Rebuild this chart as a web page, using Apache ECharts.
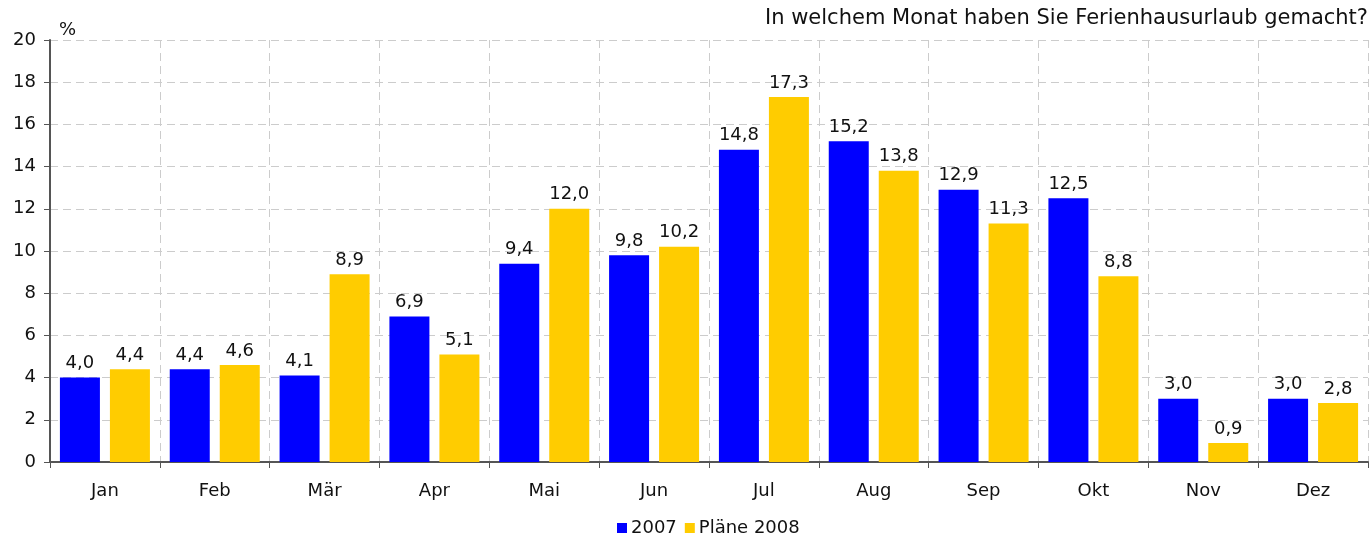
<!DOCTYPE html>
<html>
<head>
<meta charset="utf-8">
<script src="https://cdn.jsdelivr.net/npm/echarts@6/dist/echarts.min.js"></script>
<style>
  html, body { margin: 0; padding: 0; background: #fff; }
  #chart { width: 1372px; height: 536px; }
</style>
</head>
<body>
<div id="chart"></div>
<script>
const months = ['Jan', 'Feb', 'Mär', 'Apr', 'Mai', 'Jun', 'Jul', 'Aug', 'Sep', 'Okt', 'Nov', 'Dez'];
const values2007 = [4.0, 4.4, 4.1, 6.9, 9.4, 9.8, 14.8, 15.2, 12.9, 12.5, 3.0, 3.0];
const values2008 = [4.4, 4.6, 8.9, 5.1, 12.0, 10.2, 17.3, 13.8, 11.3, 8.8, 0.9, 2.8];
const seriesNames = ['2007', 'Pläne 2008'];

const font = 'Verdana, "DejaVu Sans", sans-serif';
const chart = echarts.init(document.getElementById('chart'));

const fmt = (p) => p.value.toFixed(1).replace('.', ',');

chart.setOption({
  animation: false,
  textStyle: { fontFamily: font, color: '#000' },
  title: {
    text: 'In welchem Monat haben Sie Ferienhausurlaub gemacht?',
    right: 4,
    top: 8,
    padding: 0,
    textStyle: { fontFamily: font, fontSize: 21, fontWeight: 'normal', color: '#111' }
  },
  legend: {
    data: seriesNames,
    bottom: -1,
    left: 617,
    padding: 0,
    itemWidth: 10,
    itemHeight: 10,
    itemGap: 8,
    icon: 'rect',
    textStyle: { fontFamily: font, fontSize: 18, color: '#111', padding: [0, 0, 0, -1] }
  },
  grid: { left: 50, right: 4, top: 40, bottom: 74, containLabel: false },
  xAxis: {
    type: 'category',
    data: months,
    axisLine: { lineStyle: { color: '#555', width: 2 } },
    axisTick: { show: true, length: 6, lineStyle: { color: '#555' } },
    axisLabel: { fontFamily: font, fontSize: 18, color: '#111', margin: 20 },
    splitLine: { show: true, lineStyle: { color: '#ccc', type: [8, 5] } }
  },
  yAxis: {
    type: 'value',
    min: 0,
    max: 20,
    interval: 2,
    name: '%',
    nameGap: 1,
    nameTextStyle: { fontFamily: font, fontSize: 18, color: '#111', align: 'left', padding: [0, 0, 0, 9] },
    axisLine: { show: true, lineStyle: { color: '#555', width: 2 } },
    axisTick: { show: true, length: 6, lineStyle: { color: '#555' } },
    axisLabel: { fontFamily: font, fontSize: 18, color: '#111', margin: 14 },
    splitLine: { show: true, lineStyle: { color: '#ccc', type: [8, 5] } }
  },
  series: [
    {
      name: seriesNames[0],
      type: 'bar',
      data: values2007,
      barWidth: 40,
      barGap: '25%',
      itemStyle: { color: '#0000ff' },
      label: { show: true, position: 'top', distance: 5, formatter: fmt, fontFamily: font, fontSize: 18, color: '#111' }
    },
    {
      name: seriesNames[1],
      type: 'bar',
      data: values2008,
      barWidth: 40,
      barGap: '25%',
      itemStyle: { color: '#ffcc00' },
      label: { show: true, position: 'top', distance: 5, formatter: fmt, fontFamily: font, fontSize: 18, color: '#111' }
    }
  ]
});
window.onresize = () => chart.resize();
</script>
</body>
</html>
